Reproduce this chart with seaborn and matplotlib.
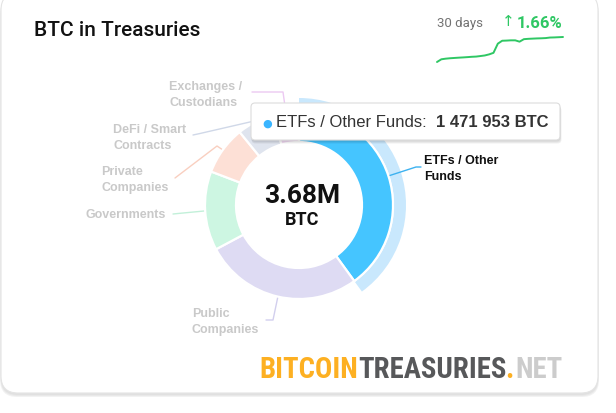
import matplotlib
matplotlib.use("Agg")
import matplotlib.pyplot as plt
import seaborn as sns
import numpy as np
from matplotlib.patches import FancyBboxPatch
from matplotlib import font_manager

# dati del grafico
categorie = ["ETFs / Other Funds", "Public Companies", "Governments",
             "Private Companies", "DeFi / Smart Contracts", "Exchanges / Custodians"]
etichette = ["ETFs / Other\nFunds", "Public\nCompanies", "Governments",
             "Private\nCompanies", "DeFi / Smart\nContracts", "Exchanges /\nCustodians"]
btc = [1471953, 1001000, 500000, 307000, 235000, 165000]
totale_label = "3.68M"
unita = "BTC"

# ultimi 30 giorni (milioni di BTC)
giorni = list(range(30))
storico = [3.620, 3.6265, 3.628, 3.629, 3.6297, 3.6304, 3.631, 3.6317, 3.6325, 3.633,
           3.6343, 3.6357, 3.6383, 3.642, 3.664, 3.671, 3.6714, 3.672, 3.672, 3.6688,
           3.6748, 3.6756, 3.6761, 3.6766, 3.6769, 3.6774, 3.6787, 3.679, 3.6795, 3.680]
periodo = "30 days"
variazione = "1.66%"

# stile
sns.set_theme(style="white")
plt.rcParams['font.family'] = ['Liberation Sans', 'DejaVu Sans']

W, H = 616, 413
fig = plt.figure(figsize=(W / 100, H / 100), dpi=100)
fig.patch.set_facecolor('white')
ax = fig.add_axes([0, 0, 1, 1])
ax.set_xlim(0, W)
ax.set_ylim(0, H)

# card con ombra
for i, a in enumerate([0.03, 0.04, 0.05]):
    ax.add_patch(FancyBboxPatch((1 - i * 0.5, 18 - i), 597 + i, 400,
                                boxstyle="round,pad=0,rounding_size=17",
                                fc='black', ec='none', alpha=a, zorder=0))
ax.add_patch(FancyBboxPatch((1, 20), 597, 400, boxstyle="round,pad=0,rounding_size=17",
                            fc='white', ec='#e4e4e4', lw=0.8, zorder=1))

colori = ['#45c5ff', '#dedbf3', '#cdf6e2', '#fde0d6', '#dfe4ee', '#f3dbf5']
col_linee = ['#3db2f0', '#d2cfee', '#c2f0d9', '#f9cfc0', '#d0d8e8', '#ecc9f2']
col_testo = ['#111111'] + ['#c9c9c9'] * 5

CX, CY = 299, 208
R, LARG = 94, 31

# alone della fetta selezionata
colori_alone = ['#c9e8fd'] + ['none'] * (len(btc) - 1)
ax.pie(btc, colors=colori_alone, startangle=90, counterclock=False, radius=R + 13,
       center=(CX, CY), wedgeprops=dict(width=12, edgecolor='none'), frame=True)

# ciambella
spicchi, _ = ax.pie(btc, colors=colori, startangle=90, counterclock=False, radius=R,
                    center=(CX, CY), wedgeprops=dict(width=LARG, edgecolor='white', linewidth=1.6),
                    frame=True)
for s in spicchi:
    s.set_zorder(3)
ax.set_xlim(0, W)
ax.set_ylim(0, H)
ax.set_aspect('auto')
ax.axis('off')

# posizioni etichette (pixel dall'alto) e punti dei connettori
pos_etichette = [(424, 169), (192, 322), (85, 215.5), (101, 180), (113, 138), (169, 95)]
fine_linea = [(421, 167), (266, 320), (173, 214), (175, 178), (193, 135), (252, 92)]
gomito = [(416, 167), (273, 320), (178, 213.5), (217, 146), (200, 133.5), (283, 92)]

for i, s in enumerate(spicchi):
    ang = np.deg2rad((s.theta1 + s.theta2) / 2)
    x0, y0 = CX + (R + 1) * np.cos(ang), CY + (R + 1) * np.sin(ang)
    xs = [x0, gomito[i][0], fine_linea[i][0]]
    ys = [y0, H - gomito[i][1], H - fine_linea[i][1]]
    ax.plot(xs, ys, color=col_linee[i], lw=1, zorder=2)
    ax.text(pos_etichette[i][0], H - pos_etichette[i][1], etichette[i], ha='left', va='center',
            fontsize=9, fontweight='bold', color=col_testo[i], linespacing=1.4, zorder=4)

# totale al centro
ax.text(CX + 3, H - 196, totale_label, ha='center', va='center', fontsize=19,
        fontweight='bold', family=['Roboto', 'DejaVu Sans'], color='#111111', zorder=5)
ax.text(CX + 3, H - 220, unita, ha='center', va='center', fontsize=13,
        fontweight='bold', family=['Roboto', 'DejaVu Sans'], color='#111111', zorder=5)

# titolo
ax.text(34, H - 31, "BTC in Treasuries", ha='left', va='center', fontsize=15,
        fontweight='medium', family=['Roboto', 'DejaVu Sans'], color='#111111', zorder=5)

# tooltip
for i, a in enumerate([0.05, 0.05, 0.06]):
    ax.add_patch(FancyBboxPatch((251 + 0.5, H - 140 - 1.5 - i), 309 + i * 0.5, 37,
                                boxstyle="round,pad=0,rounding_size=4",
                                fc='black', ec='none', alpha=a, zorder=9))
ax.add_patch(FancyBboxPatch((251, H - 140), 309, 37, boxstyle="round,pad=0,rounding_size=4",
                            fc='white', ec='#dcdcdc', lw=0.8, zorder=10))
ax.text(267, H - 123.5, "●", ha='center', va='center', fontsize=8, color='#3ab5ff',
        family=['DejaVu Sans'], zorder=11)
ax.text(276, H - 122.5, categorie[0] + ":", ha='left', va='center', fontsize=12,
        color='#333333', zorder=11)
ax.text(548, H - 122.5, f"{btc[0]:,}".replace(",", " ") + " BTC", ha='right', va='center',
        fontsize=12, fontweight='bold', color='#333333', zorder=11)

# andamento 30 giorni
verde = '#2fc764'
ax.text(437, H - 23, periodo, ha='left', va='center', fontsize=9.5,
        family=['Roboto', 'DejaVu Sans'], color='#737373', zorder=5)
ax.text(562, H - 23, variazione, ha='right', va='center', fontsize=12, fontweight='bold',
        family=['Roboto', 'DejaVu Sans'], color=verde, zorder=5)
ax.text(515, H - 22, "↑", ha='right', va='center', fontsize=11,
        family=['DejaVu Sans'], color=verde, zorder=5)

ax_sp = fig.add_axes([437 / W, (H - 62) / H, (563 - 437) / W, 25 / H])
sns.lineplot(x=giorni, y=storico, ax=ax_sp, color=verde, linewidth=1.4)
ax_sp.set_xlim(giorni[0], giorni[-1])
ax_sp.set_ylim(min(storico), max(storico))
for l in ax_sp.lines:
    l.set_clip_on(False)
ax_sp.axis('off')

# logo
nomi = {f.name for f in font_manager.fontManager.ttflist}
font_logo = 'Liberation Sans'
stretch = 'normal'
for cand in ['Liberation Sans Narrow', 'Roboto Condensed', 'Open Sans Condensed']:
    if cand in nomi:
        font_logo = cand
        break
else:
    if any(f.name == 'DejaVu Sans' and str(f.stretch) == 'condensed'
           for f in font_manager.fontManager.ttflist):
        font_logo = 'DejaVu Sans'
        stretch = 'condensed'

pezzi = [("BITCOIN", '#fdb022'), ("TREASURIES", '#57585a'), (".", '#fdb022'), ("NET", '#cccccc')]
X_LOGO, Y_LOGO = 259, H - 378
intero = "".join(p[0] for p in pezzi)
renderer = fig.canvas.get_renderer()
t = ax.text(0, 0, intero, fontsize=20, fontweight='bold', family=font_logo, fontstretch=stretch)
dim = 20 * 303 / t.get_window_extent(renderer).width
t.remove()


def inchiostro(testo):
    # disegna il testo di prova e trova le colonne con inchiostro nella zona del logo
    t = ax.text(X_LOGO, Y_LOGO, testo, ha='left', va='baseline', fontsize=dim,
                fontweight='bold', family=font_logo, fontstretch=stretch, color='black', zorder=30)
    fig.canvas.draw()
    img = np.asarray(fig.canvas.buffer_rgba())[:, :, :3].astype(int)
    t.remove()
    zona = img[340:390, 230:592].sum(axis=2)
    cols = np.where((zona < 380).any(axis=0))[0]
    return 230 + cols[0], 230 + cols[-1]


# prima si misurano tutte le posizioni, poi si disegna
posizioni = []
prefisso = ""
for testo, c in pezzi:
    prefisso += testo
    if prefisso == testo:
        posizioni.append(X_LOGO)
    else:
        destra = inchiostro(prefisso)[1]
        posizioni.append(X_LOGO + destra - inchiostro(testo)[1])

for (testo, c), x in zip(pezzi, posizioni):
    ax.text(x, Y_LOGO, testo, ha='left', va='baseline', fontsize=dim, fontweight='bold',
            family=font_logo, fontstretch=stretch, color=c, zorder=5)

plt.savefig("out.png", dpi=100, facecolor='white')
plt.close()
